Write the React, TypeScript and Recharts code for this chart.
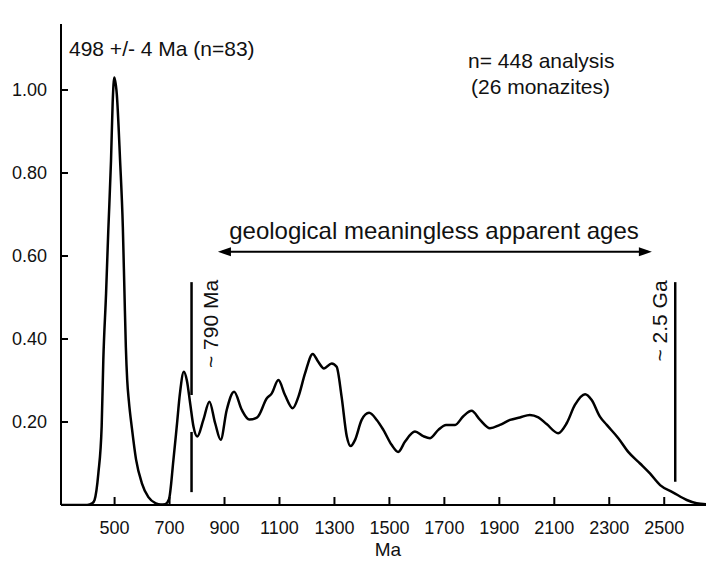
import { LineChart, Line, XAxis, YAxis, ReferenceLine } from "recharts";

// probability density curve, age in Ma
const ages = [
  305, 400, 420, 427, 441, 453, 459, 469, 477, 487, 493, 499, 508, 520, 530,
  536, 541, 546, 552, 563, 578, 599, 623, 650, 668, 684, 698, 714, 726, 738,
  752, 763, 775, 787, 801, 823, 845, 866, 886, 908, 935, 963, 990, 1019, 1054,
  1072, 1096, 1120, 1148, 1169, 1193, 1221, 1241, 1262, 1290, 1308, 1326,
  1345, 1359, 1375, 1399, 1426, 1454, 1478, 1508, 1532, 1557, 1593, 1623,
  1648, 1678, 1706, 1739, 1769, 1799, 1830, 1866, 1902, 1939, 1975, 2011,
  2042, 2072, 2114, 2145, 2175, 2212, 2236, 2266, 2291, 2333, 2369, 2412,
  2448, 2485, 2533, 2582, 2618, 2652,
];
const density = [
  0, 0, 0.005, 0.012, 0.077, 0.19, 0.35, 0.51, 0.66, 0.83, 0.97, 1.03, 0.99,
  0.83, 0.67, 0.51, 0.38, 0.3, 0.25, 0.185, 0.11, 0.053, 0.019, 0.004, 0.001,
  0.002, 0.014, 0.108, 0.188, 0.27, 0.321, 0.3, 0.245, 0.189, 0.165, 0.205,
  0.249, 0.197, 0.157, 0.229, 0.273, 0.229, 0.206, 0.211, 0.257, 0.269, 0.301,
  0.265, 0.233, 0.261, 0.317, 0.364, 0.345, 0.329, 0.341, 0.333, 0.261, 0.165,
  0.142, 0.157, 0.205, 0.222, 0.205, 0.181, 0.145, 0.128, 0.153, 0.177, 0.166,
  0.161, 0.181, 0.193, 0.193, 0.214, 0.227, 0.205, 0.185, 0.193, 0.205, 0.211,
  0.217, 0.211, 0.195, 0.173, 0.197, 0.241, 0.267, 0.253, 0.213, 0.193, 0.161,
  0.128, 0.1, 0.076, 0.048, 0.03, 0.012, 0.004, 0.002,
];

const xTicks = [500, 700, 900, 1100, 1300, 1500, 1700, 1900, 2100, 2300, 2500];
const yTicks = [0.2, 0.4, 0.6, 0.8, 1.0];

// ~790 Ma and ~2.5 Ga markers (age, top, bottom) - 790 line has a gap
const lowerLimit = [
  { age: 780, from: 0.537, to: 0.265 },
  { age: 780, from: 0.176, to: 0.031 },
];
const upperLimit = [{ age: 2540, from: 0.537, to: 0.056 }];
const arrowRange = [876, 2455];
const arrowLevel = 0.61;

const data = ages.map((age, i) => ({ age, density: density[i] }));

const font = "'Liberation Sans', Arial, Helvetica, sans-serif";

const XTick = ({ x, y, payload }: any) => (
  <g>
    <line x1={x} x2={x} y1={y - 29} y2={y - 37} stroke="#000" strokeWidth={2} />
    <text x={x} y={y} textAnchor="middle" fontSize={18} fontFamily={font} fill="#111">
      {payload.value}
    </text>
  </g>
);

const YTick = ({ x, y, payload }: any) => (
  <g>
    <line x1={x + 14} x2={x + 21} y1={y} y2={y} stroke="#000" strokeWidth={2} />
    <text x={x} y={y + 6} textAnchor="end" fontSize={18} fontFamily={font} fill="#111">
      {Number(payload.value).toFixed(2)}
    </text>
  </g>
);

const DoubleArrow = (props: any) => {
  const { x1, y1, x2, y2 } = props;
  const len = 13;
  const hw = 4.5;
  return (
    <g>
      <line x1={x1 + 4} y1={y1} x2={x2 - 4} y2={y2} stroke="#000" strokeWidth={2} />
      <polygon points={`${x1},${y1} ${x1 + len},${y1 - hw} ${x1 + len},${y1 + hw}`} fill="#000" />
      <polygon points={`${x2},${y2} ${x2 - len},${y2 - hw} ${x2 - len},${y2 + hw}`} fill="#000" />
    </g>
  );
};

export default function App() {
  return (
    <div style={{ position: "absolute", left: 0, top: 0, width: 706, height: 566, background: "#fff" }}>
      <LineChart
        width={706}
        height={566}
        data={data}
        margin={{ top: 24, right: 0, bottom: 0, left: 0 }}
      >
        <XAxis
          dataKey="age"
          type="number"
          domain={[305, 2652]}
          ticks={xTicks}
          allowDataOverflow
          height={61}
          tickSize={0}
          tickMargin={29}
          tick={XTick}
          axisLine={{ stroke: "#000", strokeWidth: 2 }}
        />
        <YAxis
          type="number"
          domain={[0, 1.159]}
          ticks={yTicks}
          allowDataOverflow
          width={61}
          tickSize={0}
          tickMargin={14}
          tick={YTick}
          axisLine={{ stroke: "#000", strokeWidth: 2 }}
        />
        {[...lowerLimit, ...upperLimit].map((s, i) => (
          <ReferenceLine
            key={i}
            segment={[
              { x: s.age, y: s.from },
              { x: s.age, y: s.to },
            ]}
            stroke="#000"
            strokeWidth={2.5}
          />
        ))}
        <ReferenceLine
          segment={[
            { x: arrowRange[0], y: arrowLevel },
            { x: arrowRange[1], y: arrowLevel },
          ]}
          shape={DoubleArrow}
        />
        <Line
          type="monotone"
          dataKey="density"
          stroke="#000"
          strokeWidth={2.5}
          dot={false}
          isAnimationActive={false}
        />
      </LineChart>
      <svg
        width={706}
        height={566}
        style={{ position: "absolute", left: 0, top: 0, pointerEvents: "none" }}
        fontFamily={font}
        fill="#111"
      >
        <text x={69} y={56} fontSize={21}>498 +/- 4 Ma (n=83)</text>
        <text x={468} y={68} fontSize={21}>n= 448 analysis</text>
        <text x={471} y={94} fontSize={21}>(26 monazites)</text>
        <text x={434} y={239} fontSize={24} textAnchor="middle">
          geological meaningless apparent ages
        </text>
        <text x={218} y={324} fontSize={21} textAnchor="middle" transform="rotate(-90 218 324)">
          ~ 790 Ma
        </text>
        <text x={667} y={321} fontSize={21} textAnchor="middle" transform="rotate(-90 667 321)">
          ~ 2.5 Ga
        </text>
        <text x={388} y={556} fontSize={19} textAnchor="middle">Ma</text>
      </svg>
    </div>
  );
}
